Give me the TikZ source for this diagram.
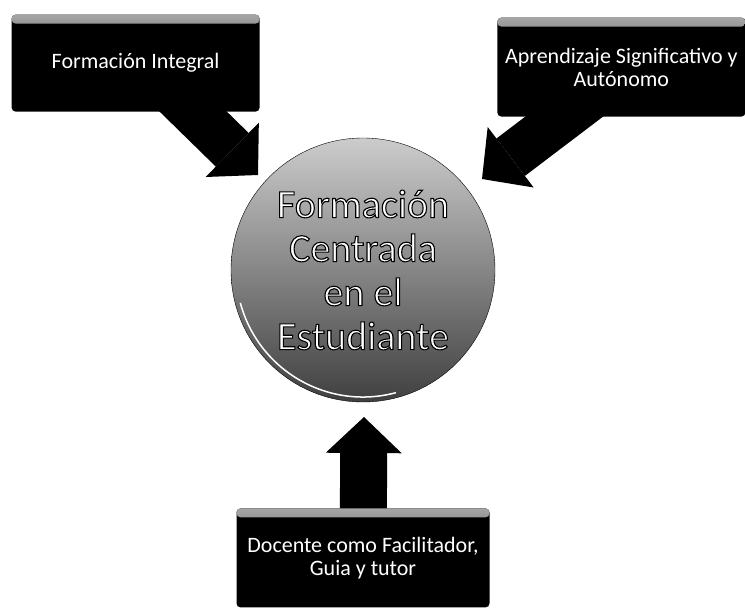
\documentclass[tikz,border=0pt]{standalone}
\usepackage{fontspec}
\setmainfont{Carlito}
\usetikzlibrary{positioning,arrows.meta,backgrounds}
% white letters with a black outline (xdvipdfmx)
\newcommand{\contorno}[1]{\special{pdf:literal direct 2 Tr 1.1 w 0 0 0 RG}#1\special{pdf:literal direct 0 Tr}}
\tikzset{
caja/.style={fill=black,rounded corners=4pt,text=white,align=center,
minimum width=248pt,minimum height=97pt,inner sep=2pt,
font=\fontsize{22}{23}\selectfont,
path picture={\shade[top color=gray!70,bottom color=black]
(path picture bounding box.north west) rectangle
([yshift=-9pt]path picture bounding box.north east);}},
bola/.style={circle,draw=black,thin,minimum size=264pt,inner sep=0pt,
top color=gray!40,bottom color=black!75,text=white,align=center,
font=\fontsize{40}{44}\selectfont},
flecha/.style={line width=47pt,-{Triangle[width=76pt,length=36pt,line width=0pt]}}
}
\begin{document}
\begin{tikzpicture}[x=1pt,y=-1pt]
\useasboundingbox (0,0) rectangle (745,610);

\node[bola] (centro) at (363,270) {\contorno{Formación}\\
\contorno{Centrada}\\ \contorno{en el}\\ \contorno{Estudiante}};
\draw[white,line width=1.5pt] (centro.center) ++(165:127)
arc[start angle=165,end angle=75,radius=127];

\node[caja] (integral) [above left=64.7pt and 9.7pt of centro] {Formación Integral};
\node[caja,minimum height=99pt] (autonomo) [above right=59.7pt and 40.7pt of centro]
{Aprendizaje Significativo y\\Autónomo};
\node[caja,minimum width=253pt,minimum height=99pt] (docente) [below=106pt of centro]
{Docente como Facilitador,\\Guia y tutor};

\coordinate (p1) at (258,175);
\coordinate (p2) at (482,179);
\coordinate (p3) at (364,417);

\begin{scope}[on background layer]
\draw[flecha] ([xshift=8pt]integral.center) -- (p1);
\draw[flecha] ([xshift=8pt]autonomo.center) -- (p2);
\draw[flecha] (docente.center) -- (p3);
\end{scope}

\end{tikzpicture}
\end{document}
